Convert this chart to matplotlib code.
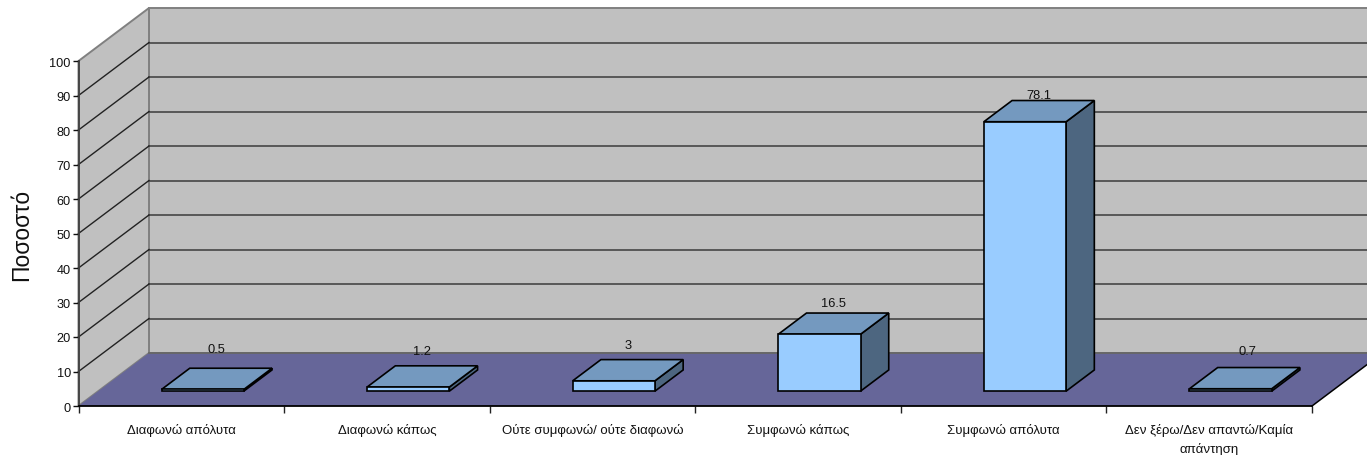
import matplotlib
matplotlib.use("Agg")
import matplotlib.pyplot as plt
from matplotlib.patches import Polygon

categories = ["Διαφωνώ απόλυτα", "Διαφωνώ κάπως", "Ούτε συμφωνώ/ ούτε διαφωνώ",
              "Συμφωνώ κάπως", "Συμφωνώ απόλυτα", "Δεν ξέρω/Δεν απαντώ/Καμία\nαπάντηση"]
values = [0.5, 1.2, 3, 16.5, 78.1, 0.7]
value_labels = ["0.5", "1.2", "3", "16.5", "78.1", "0.7"]
y_ticks = list(range(0, 101, 10))
y_title = "Ποσοστό"

# style / geometry (oblique projection, in chart units)
W, H = 1367, 456
L, R, B, T = 78.5, 1312, 407, 62
ncat = len(categories)
DX = 70.5 / ((R - L) / ncat)      # depth shift in category units
DY = 53 / ((B - T) / 100)         # depth shift in value units
D0, D1 = 0.28, 0.68               # bar depth range
BAR_LEFT, BAR_W = 0.308, 0.40
label_dy = [5.5, 4.3, 4.3, 3.0, 1.5, 4.9]   # extra lift of value labels above bar top
label_dx = [-0.07, -0.07, -0.07, -0.07, -0.07, -0.055]

plt.rcParams["font.family"] = ["Liberation Sans", "DejaVu Sans"]
fig = plt.figure(figsize=(W / 100, H / 100), dpi=100)
ax = fig.add_axes([L / W, 1 - B / H, (R - L) / W, (B - T) / H])
ax.set_xlim(0, ncat)
ax.set_ylim(0, 100)
ax.patch.set_visible(False)


def P(x, v, d=0.0):
    return (x + d * DX, v + d * DY)


def poly(pts, fc, ec="black", lw=1.2, z=2):
    ax.add_patch(Polygon(pts, closed=True, fc=fc, ec=ec, lw=lw, zorder=z,
                         clip_on=False, joinstyle="miter"))


FAR = ncat + 0.6
# back wall, side wall, floor
poly([P(0, 0, 1), P(FAR, 0, 1), P(FAR, 100, 1), P(0, 100, 1)], "#C0C0C0", "#808080", 1.4, 1)
poly([P(0, 0), P(0, 0, 1), P(0, 100, 1), P(0, 100)], "#C0C0C0", "#808080", 1.4, 1)
poly([P(0, 0), P(ncat, 0), P(ncat, 0, 1), P(0, 0, 1)], "#666699", "none", 0, 1.2)

for v in y_ticks[:-1]:
    x0, y0 = P(0, v, 1)
    x1, y1 = P(FAR, v, 1)
    ax.plot([x0, x1], [y0, y1], color="#505050" if v else "#666666", lw=1.3, zorder=1.5, clip_on=False)
    if v:
        xa, ya = P(0, v)
        ax.plot([xa, x0], [ya, y0], color="#222222", lw=1.0, zorder=1.5, clip_on=False)

# floor right edge
xa, ya = P(ncat, 0)
xb, yb = P(ncat, 0, 1)
ax.plot([xa, xb], [ya, yb], color="black", lw=1.1, zorder=1.6, clip_on=False)

# bars
for i, (v, lab) in enumerate(zip(values, value_labels)):
    x0 = i + BAR_LEFT
    x1 = x0 + BAR_W
    poly([P(x1, 0, D0), P(x1, 0, D1), P(x1, v, D1), P(x1, v, D0)], "#4D6680")
    poly([P(x0, v, D0), P(x1, v, D0), P(x1, v, D1), P(x0, v, D1)], "#7499BF")
    poly([P(x0, 0, D0), P(x1, 0, D0), P(x1, v, D0), P(x0, v, D0)], "#99CCFF")
    tx, ty = P(x0 + BAR_W / 2, v + label_dy[i], D1)
    ax.text(tx + label_dx[i], ty, lab, ha="center", va="center", fontsize=9.3, color="#111111", zorder=3)

# axes
for s in ("top", "right"):
    ax.spines[s].set_visible(False)
ax.spines["left"].set_color("#404040")
ax.spines["left"].set_linewidth(1.3)
ax.spines["bottom"].set_color("black")
ax.spines["bottom"].set_linewidth(1.3)
for s in ax.spines.values():
    s.set_zorder(2.5)
ax.set_yticks(y_ticks)
ax.tick_params(axis="y", labelsize=9.2, length=4, width=1, pad=1.5, colors="#111111")
ax.set_xticks(range(ncat + 1))
ax.set_xticklabels([])
ax.tick_params(axis="x", which="major", length=5, width=1, color="#222222")
ax.set_xticks([i + 0.5 for i in range(ncat)], minor=True)
ax.set_xticklabels(categories, minor=True, fontsize=9.5, color="#111111", linespacing=1.65)
ax.tick_params(axis="x", which="minor", length=0, pad=12)

fig.text(22 / W, 1 - 235 / H, y_title, rotation=90, ha="center", va="center", fontsize=16.5, color="#111111")
fig.savefig("out.png", dpi=100)
